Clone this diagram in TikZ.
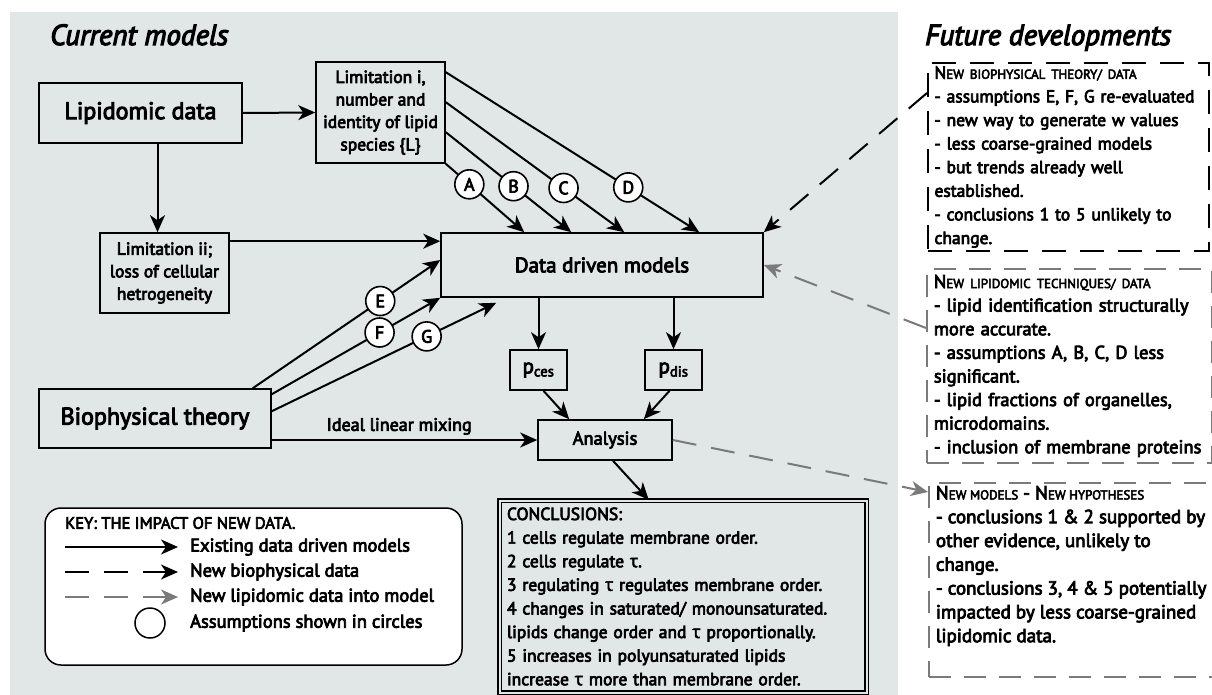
\documentclass[tikz,border=0pt]{standalone}
\usepackage{fontspec}
\setmainfont{PT Sans}[FakeBold=4]
\newfontfamily\greekfont{Open Sans}[FakeBold=2.5]
\usetikzlibrary{arrows.meta, positioning}

\definecolor{panel}{RGB}{225,230,230}
\definecolor{lipgrey}{RGB}{122,122,122}
\newcommand{\tauc}{{\greekfont τ}}
\newcommand{\smc}[2]{#1{\fontsize{13}{14}\selectfont #2}}

\begin{document}
\begin{tikzpicture}[x=1pt, y=-1pt,
    box/.style={draw, line width=1.6pt, fill=panel, align=center, inner sep=2pt},
    bigbox/.style={box, font=\fontsize{24}{28}\selectfont},
    limbox/.style={box, font=\fontsize{17.5}{22.5}\selectfont},
    assum/.style={circle, draw, line width=1.6pt, fill=white, minimum size=29pt,
                  inner sep=0pt, font=\fontsize{18}{18}\selectfont},
    arr/.style={-{Stealth[length=17pt, width=15pt, inset=5pt]}, line width=2pt},
    biodash/.style={arr, dash pattern=on 24pt off 15pt},
    lipdash/.style={arr, color=lipgrey, dash pattern=on 24pt off 15pt},
    note/.style={anchor=north west, fill=white, line width=1.8pt,
                 font=\fontsize{17.5}{23.6}\selectfont},
    keytext/.style={anchor=west, inner sep=0pt, font=\fontsize{18.5}{20}\selectfont},
    title/.style={anchor=base west, inner sep=0pt, font=\fontsize{29}{34}\selectfont\itshape}]

  \useasboundingbox (0,0) rectangle (1212,695);
  \fill[panel] (10,12) rectangle (898,700);

  \node[title] (curr) at (50,45) {Current models};
  \node[title] (fut) at (925,45) {Future developments};

  % current model chain
  \node[bigbox, minimum width=203pt, minimum height=60pt] (lipid) at (140.5,113) {Lipidomic data};
  \node[limbox, minimum width=129pt, minimum height=101pt] (limi) at (380.5,112.5)
    {Limitation i,\\number and\\identity of lipid\\species \{L\}};
  \node[limbox, minimum width=129pt, minimum height=80pt] (limii) at (164.5,273)
    {Limitation ii;\\loss of cellular\\hetrogeneity};
  \node[box, minimum width=322pt, minimum height=64pt, font=\fontsize{21}{25}\selectfont] (ddm) at (602,265) {Data driven models};
  \node[bigbox, minimum width=232pt, minimum height=59pt] (bio) at (155,418.5) {Biophysical theory};
  \node[box, minimum width=57pt, minimum height=40pt, font=\fontsize{21}{21}\selectfont] (pces) at (538.5,370) {p\textsubscript{ces}};
  \node[box, minimum width=57pt, minimum height=40pt, font=\fontsize{21}{21}\selectfont] (pdis) at (673.5,370) {p\textsubscript{dis}};
  \node[box, minimum width=134pt, minimum height=40pt, font=\fontsize{18.5}{20}\selectfont] (ana) at (605,440) {Analysis};
  \node[draw, line width=1.5pt, double=panel, double distance=2pt, fill=panel,
        minimum width=367pt, minimum height=192pt, text width=352pt, inner xsep=7.5pt,
        align=left, font=\fontsize{17.5}{23.6}\selectfont] (concl) at (683,596.5)
    {CONCLUSIONS:\\
     1 cells regulate membrane order.\\
     2 cells regulate \tauc.\\
     3 regulating \tauc{} regulates membrane order.\\
     4 changes in saturated/ monounsaturated.\\
     lipids change order and \tauc{} proportionally.\\
     5 increases in polyunsaturated lipids\\
     increase \tauc{} more than membrane order.};

  \coordinate (ddmin) at ([yshift=-9pt]ddm.north west);
  \draw[arr] (lipid.east) -- (limi.west);
  \draw[arr] ([xshift=17pt]lipid.south) -- ([xshift=17pt]lipid.south |- limii.north);
  \draw[arr] (limii.east |- ddmin) -- (ddmin);

  % assumptions A-D
  \draw[arr] (limi.south east) -- node[assum, pos=0.3] (cA) {A} ([xshift=84pt]ddm.north west);
  \draw[arr] ([yshift=-71pt]limi.north east) -- node[assum, pos=0.54] (cB) {B} ([xshift=131pt]ddm.north west);
  \draw[arr] ([yshift=-41pt]limi.north east) -- node[assum, pos=0.66] (cC) {C} ([xshift=184pt]ddm.north west);
  \draw[arr] ([yshift=-11pt]limi.north east) -- node[assum, pos=0.72] (cD) {D} ([xshift=259pt]ddm.north west);

  % assumptions E-G
  \draw[arr] ([xshift=-19pt]bio.north east) -- node[assum, pos=0.68] (cE) {E} ([yshift=5pt]ddm.west);
  \draw[arr] ([yshift=-6pt]bio.north east) -- node[assum, pos=0.64] (cF) {F} (ddm.south west);
  \draw[arr] ([yshift=-23pt]bio.north east) -- node[assum, pos=0.69] (cG) {G} ([xshift=56pt, yshift=-5pt]ddm.south west);

  \draw[arr] (ana.west -| bio.east) -- node[above=1pt, pos=0.48, font=\fontsize{18}{20}\selectfont] (mixlab) {Ideal linear mixing} (ana.west);
  \draw[arr] (pces.north |- ddm.south) -- (pces.north);
  \draw[arr] (pdis.north |- ddm.south) -- (pdis.north);
  \draw[arr] ([xshift=5pt]pces.south) -- ([xshift=32pt]ana.north west);
  \draw[arr] ([xshift=-4pt]pdis.south) -- ([xshift=-29pt]ana.north east);
  \draw[arr] ([xshift=8pt]ana.south) -- ([xshift=150pt]concl.north west);

  % future developments
  \node[note, draw, dash pattern=on 24pt off 14pt, line width=2pt, align=left,
        minimum width=281pt, minimum height=188pt, text width=268pt, inner xsep=6.5pt] (newbio) at (927,62)
    {\smc{N}{EW BIOPHYSICAL THEORY/ DATA}\\
     - assumptions E, F, G re-evaluated\\
     - new way to generate w values\\
     - less coarse-grained models\\
     - but trends already well\\
     established.\\
     - conclusions 1 to 5 unlikely to\\
     change.};
  \node[note, draw=lipgrey, dash pattern=on 22pt off 13pt, align=left, font=\fontsize{18.5}{23.6}\selectfont,
        minimum width=285pt, minimum height=194pt, text width=271pt, inner xsep=7pt] (newlip) at (926,268)
    {\smc{N}{EW LIPIDOMIC TECHNIQUES/ DATA}\\
     - lipid identification structurally\\
     more accurate.\\
     - assumptions A, B, C, D less\\
     significant.\\
     - lipid fractions of organelles,\\
     microdomains.\\
     - inclusion of membrane proteins};
  \node[note, draw=lipgrey, dash pattern=on 22pt off 13pt, inner xsep=7pt, inner ysep=3pt,
        font=\fontsize{19}{23.8}\selectfont] (newmod) at (928,482)
    {\begin{minipage}[t][188pt][t]{290pt}\raggedright
     \smc{N}{EW MODELS} - \smc{N}{EW HYPOTHESES}\\
     - conclusions 1 \& 2 supported by\\
     other evidence, unlikely to\\
     change.\\
     - conclusions 3, 4 \& 5 potentially\\
     impacted by less coarse-grained\\
     lipidomic data.
     \end{minipage}};

  \draw[biodash] ([yshift=-31pt]newbio.north west) -- (ddm.north east);
  \draw[lipdash] ([yshift=-60pt]newlip.north west) -- (ddm.east);
  \draw[lipdash] (ana.east) -- ([yshift=-10pt]newmod.north west);

  % key
  \node[draw, line width=1.5pt, rounded corners=16pt, fill=white,
        minimum width=417pt, minimum height=157pt] (key) at (253.5,586.5) {};
  \node[anchor=west, inner sep=0pt, font=\fontsize{16.5}{18}\selectfont] (keyhead) at (65,523) {KEY: THE IMPACT OF NEW DATA.};
  \node[keytext] (kexist) at (190,547) {Existing data driven models};
  \node[keytext] (kbio) at (190,572) {New biophysical data};
  \node[keytext] (klip) at (190,597) {New lipidomic data into model};
  \node[keytext] (kcirc) at (190,623) {Assumptions shown in circles};
  \node[circle, draw, line width=1.5pt, minimum size=30pt] (kring) at (150,623) {};
  \coordinate (kx1) at (65,547);
  \coordinate (kx2) at (65,572);
  \coordinate (kx3) at (65,597);
  \draw[arr] (kx1) -- ([xshift=-12pt]kexist.west);
  \draw[biodash] (kx2) -- ([xshift=-12pt]kbio.west);
  \draw[lipdash] (kx3) -- ([xshift=-12pt]klip.west);
\end{tikzpicture}
\end{document}
